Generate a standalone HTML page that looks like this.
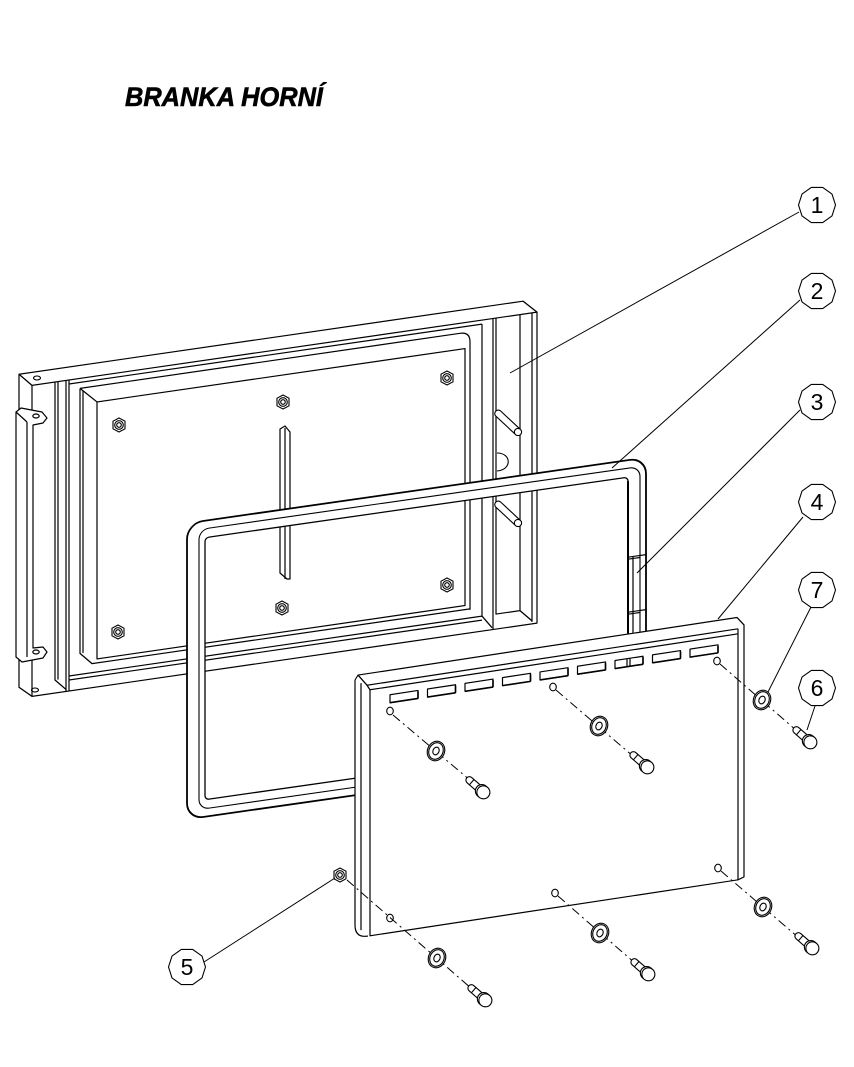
<!DOCTYPE html>
<html>
<head>
<meta charset="utf-8">
<style>
html,body{margin:0;padding:0;background:#fff;}
svg{display:block;}
</style>
</head>
<body>
<svg width="854" height="1067" viewBox="0 0 854 1067" xmlns="http://www.w3.org/2000/svg">
<rect x="0" y="0" width="854" height="1067" fill="#fff"/>

<!-- Title -->
<text x="125" y="106" font-family="Liberation Sans, sans-serif" font-weight="bold" font-style="italic" font-size="27" textLength="198" lengthAdjust="spacingAndGlyphs" fill="#000" stroke="#000" stroke-width="0.6">BRANKA HORNÍ</text>

<!-- ============ BACK PANEL (1) ============ -->
<g transform="matrix(1,-0.145,0,1,0,0)" fill="none" stroke="#000" stroke-width="1.2" stroke-linejoin="round">
  <path d="M19,377 H523 L537,390 V701 H32 L19,690 Z"/>
  <path d="M19,377 L32,390 H537"/>
  <path d="M32,390 V701"/>
  <path d="M532,390 V699"/>
  <path d="M55,390 V688 L66,699"/>
  <path d="M58,390 V688"/>
  <path d="M66,390 V701"/>
  <path d="M69,390 V701"/>
  <path d="M69,394 H482"/>
  <path d="M80,400 H460 Q470,400 470,410 V678"/>
  <path d="M80,400 V665 L92,677 H470"/>
  <path d="M83,403 V665"/>
  <path d="M80,400 L97,416"/>
  <path d="M97,416 H465 V673 H97 Z"/>
  <path d="M69,686 H482"/>
  <path d="M69,690 H482"/>
  <path d="M482,394 V686 L492,699"/>
  <path d="M493,390 V701"/>
  <path d="M496,390 V686 H520"/>
  <path d="M520,390 V686 L532,698"/>
</g>
<g fill="none" stroke="#000" stroke-width="1.1">
  <ellipse cx="37" cy="378" rx="3.5" ry="2"/>
  <ellipse cx="35" cy="690" rx="3.5" ry="2"/>
</g>

<!-- vertical plate -->
<g fill="#fff" stroke="#000" stroke-width="1.2" stroke-linejoin="round">
  <path d="M280,573 V429 L285,426 L290,432 V579 H287 Z"/>
  <path d="M285,428 V579" fill="none"/>
</g>

<!-- pins on right channel -->
<g fill="#fff" stroke="#000" stroke-width="1.1">
  <g transform="translate(518,432) rotate(43)">
    <path d="M-27,-3.5 H0 V3.5 H-27 A3.5,3.5 0 0 1 -27,-3.5 Z"/>
    <circle r="3.6"/>
  </g>
  <g transform="translate(518,523) rotate(43)">
    <path d="M-27,-3.5 H0 V3.5 H-27 A3.5,3.5 0 0 1 -27,-3.5 Z"/>
    <circle r="3.6"/>
  </g>
  <path d="M497,453 C512,453 512,470 497,471" fill="none"/>
</g>

<!-- nuts on back panel -->
<g fill="#fff" stroke="#000" stroke-width="1.1">
  <g transform="translate(119,425)"><polygon points="-6,-3.8 0,-7 6,-3.8 6,3.8 0,7 -6,3.8"/><circle r="4.3"/><circle r="2.3"/></g>
  <g transform="translate(283,402)"><polygon points="-6,-3.8 0,-7 6,-3.8 6,3.8 0,7 -6,3.8"/><circle r="4.3"/><circle r="2.3"/></g>
  <g transform="translate(447,378)"><polygon points="-6,-3.8 0,-7 6,-3.8 6,3.8 0,7 -6,3.8"/><circle r="4.3"/><circle r="2.3"/></g>
  <g transform="translate(118,632)"><polygon points="-6,-3.8 0,-7 6,-3.8 6,3.8 0,7 -6,3.8"/><circle r="4.3"/><circle r="2.3"/></g>
  <g transform="translate(282,608)"><polygon points="-6,-3.8 0,-7 6,-3.8 6,3.8 0,7 -6,3.8"/><circle r="4.3"/><circle r="2.3"/></g>
  <g transform="translate(447,585)"><polygon points="-6,-3.8 0,-7 6,-3.8 6,3.8 0,7 -6,3.8"/><circle r="4.3"/><circle r="2.3"/></g>
</g>

<!-- left bracket -->
<g fill="#fff" stroke="#000" stroke-width="1.2" stroke-linejoin="round">
  <path d="M16,412 L21,408 L42,412 L47,418 L43,423 L33,425 V648 L43,647 L47,652 L43,658 L22,662 L16,657 Z"/>
  <path d="M27,422 V657 M16,412 L27,422" fill="none"/>
  <ellipse cx="36" cy="416" rx="3.2" ry="2" fill="none"/>
  <ellipse cx="36" cy="652" rx="3.2" ry="2" fill="none"/>
</g>

<!-- ============ FRAME (2) ============ -->
<g transform="matrix(1,-0.143,0,1,0,0)" stroke-linejoin="round">
  <path fill="#fff" fill-rule="evenodd" stroke="none" d="M203,550 H630 A16,16 0 0 1 646,566 V830 A16,16 0 0 1 630,846 H203 A16,16 0 0 1 187,830 V566 A16,16 0 0 1 203,550 Z M209,567 H624 A4,4 0 0 1 628,571 V825 A4,4 0 0 1 624,829 H209 A4,4 0 0 1 205,825 V571 A4,4 0 0 1 209,567 Z"/>
  <path fill="none" stroke="#000" stroke-width="1.8" d="M203,550 H630 A16,16 0 0 1 646,566 V830 A16,16 0 0 1 630,846 H203 A16,16 0 0 1 187,830 V566 A16,16 0 0 1 203,550 Z"/>
  <path fill="none" stroke="#000" stroke-width="1.1" d="M209,558 H630 A10,10 0 0 1 640,568 V828 A10,10 0 0 1 630,838 H209 A10,10 0 0 1 199,828 V568 A10,10 0 0 1 209,558 Z"/>
  <path fill="none" stroke="#000" stroke-width="1.3" d="M209,567 H624 A4,4 0 0 1 628,571 V825 A4,4 0 0 1 624,829 H209 A4,4 0 0 1 205,825 V571 A4,4 0 0 1 209,567 Z"/>
  <path fill="none" stroke="#000" stroke-width="2" d="M628,571 V760"/>
  <path fill="none" stroke="#000" stroke-width="1.2" d="M628,647 H646 M628,649 H640 M628,702 H646 M628,704 H640 M633,647 V760"/>
</g>

<!-- ============ FRONT PANEL (4) ============ -->
<g transform="matrix(1,-0.152,0,1,0,0)" stroke-linejoin="round">
  <path fill="#fff" stroke="none" d="M355,734 L358,729.5 H737 L744,738 V990 L738,992 H368 Q355,992 355,979 Z"/>
  <g fill="none" stroke="#000" stroke-width="1.2">
    <path d="M358,729.5 H737 L744,738 V990 L738,992"/>
    <path d="M355,734 L358,729.5 L367,741 H738"/>
    <path d="M370,746 H738 V992 H370 Z"/>
    <path d="M355,734 V979 Q355,992 368,992"/>
    <path d="M361,738 V985"/>
    <path d="M367,741 L370,746"/>
    <path d="M738,741 V746"/>
  </g>
  <g fill="#fff" stroke="#000" stroke-width="1.2">
    <rect x="390" y="754" width="28" height="8"/>
    <rect x="427.5" y="754" width="28" height="8"/>
    <rect x="465" y="754" width="28" height="8"/>
    <rect x="502.5" y="754" width="28" height="8"/>
    <rect x="540" y="754" width="28" height="8"/>
    <rect x="577.5" y="754" width="28" height="8"/>
    <rect x="615" y="754" width="28" height="8"/>
    <rect x="652.5" y="754" width="28" height="8"/>
    <rect x="690" y="754" width="28" height="8"/>
  </g>
  <g fill="none" stroke="#000" stroke-width="1.6">
    <path d="M390,762 H418 M427.5,762 H455.5 M465,762 H493 M502.5,762 H530.5 M540,762 H568 M577.5,762 H605.5 M615,762 H643 M652.5,762 H680.5 M690,762 H718"/>
    <path d="M418,755 V762 M455.5,755 V762 M493,755 V762 M530.5,755 V762 M568,755 V762 M605.5,755 V762 M643,755 V762 M680.5,755 V762 M718,755 V762"/>
    <path d="M627,754 V762" stroke-width="1.2"/>
    <path d="M630,754 V762" stroke-width="1.2"/>
  </g>
</g>

<!-- holes on front panel -->
<g fill="#fff" stroke="#000" stroke-width="1.1">
  <ellipse cx="390" cy="711" rx="3.3" ry="3.8"/>
  <ellipse cx="553" cy="687" rx="3.3" ry="3.8"/>
  <ellipse cx="717" cy="661" rx="3.3" ry="3.8"/>
  <ellipse cx="390" cy="918" rx="3.3" ry="3.8"/>
  <ellipse cx="555" cy="893" rx="3.3" ry="3.8"/>
  <ellipse cx="718" cy="868" rx="3.3" ry="3.8"/>
</g>

<!-- dashed centre lines -->
<g fill="none" stroke="#000" stroke-width="1" stroke-dasharray="9,4,2,4">
  <path d="M393,715 L471,781"/>
  <path d="M556,690 L634,757"/>
  <path d="M720,664 L797,731"/>
  <path d="M347,880 L472,989"/>
  <path d="M558,896 L636,964"/>
  <path d="M721,871 L799,938"/>
</g>

<!-- washers -->
<g fill="#fff" stroke="#000" stroke-width="1.1">
  <g transform="translate(436,751) rotate(25)"><ellipse rx="8.5" ry="10"/><ellipse rx="7" ry="8.5"/><ellipse rx="3" ry="4"/></g>
  <g transform="translate(599,726) rotate(25)"><ellipse rx="8.5" ry="10"/><ellipse rx="7" ry="8.5"/><ellipse rx="3" ry="4"/></g>
  <g transform="translate(762,700) rotate(25)"><ellipse rx="8.5" ry="10"/><ellipse rx="7" ry="8.5"/><ellipse rx="3" ry="4"/></g>
  <g transform="translate(437,958) rotate(25)"><ellipse rx="8.5" ry="10"/><ellipse rx="7" ry="8.5"/><ellipse rx="3" ry="4"/></g>
  <g transform="translate(600,933) rotate(25)"><ellipse rx="8.5" ry="10"/><ellipse rx="7" ry="8.5"/><ellipse rx="3" ry="4"/></g>
  <g transform="translate(763,907) rotate(25)"><ellipse rx="8.5" ry="10"/><ellipse rx="7" ry="8.5"/><ellipse rx="3" ry="4"/></g>
</g>

<!-- bolts -->
<g fill="#fff" stroke="#000" stroke-width="1.1">
  <g transform="translate(483,792) rotate(41)"><path d="M-5,-3.5 H-18 A3.5,3.5 0 0 0 -18,3.5 H-5 Z"/><path d="M-15,-3.5 V3.5" fill="none"/><circle cx="-1.5" r="6.5"/><circle cx="0.5" r="6.5"/></g>
  <g transform="translate(647,767) rotate(41)"><path d="M-5,-3.5 H-18 A3.5,3.5 0 0 0 -18,3.5 H-5 Z"/><path d="M-15,-3.5 V3.5" fill="none"/><circle cx="-1.5" r="6.5"/><circle cx="0.5" r="6.5"/></g>
  <g transform="translate(810,742) rotate(41)"><path d="M-5,-3.5 H-18 A3.5,3.5 0 0 0 -18,3.5 H-5 Z"/><path d="M-15,-3.5 V3.5" fill="none"/><circle cx="-1.5" r="6.5"/><circle cx="0.5" r="6.5"/></g>
  <g transform="translate(485,1000) rotate(41)"><path d="M-5,-3.5 H-18 A3.5,3.5 0 0 0 -18,3.5 H-5 Z"/><path d="M-15,-3.5 V3.5" fill="none"/><circle cx="-1.5" r="6.5"/><circle cx="0.5" r="6.5"/></g>
  <g transform="translate(648,974) rotate(41)"><path d="M-5,-3.5 H-18 A3.5,3.5 0 0 0 -18,3.5 H-5 Z"/><path d="M-15,-3.5 V3.5" fill="none"/><circle cx="-1.5" r="6.5"/><circle cx="0.5" r="6.5"/></g>
  <g transform="translate(812,948) rotate(41)"><path d="M-5,-3.5 H-18 A3.5,3.5 0 0 0 -18,3.5 H-5 Z"/><path d="M-15,-3.5 V3.5" fill="none"/><circle cx="-1.5" r="6.5"/><circle cx="0.5" r="6.5"/></g>
</g>

<!-- nut 5 -->
<g fill="#fff" stroke="#000" stroke-width="1.1" transform="translate(340,875)">
  <polygon points="-6,-3.8 0,-7 6,-3.8 6,3.8 0,7 -6,3.8"/><circle r="4.3"/><circle r="2.3"/>
</g>

<!-- leader lines -->
<g fill="none" stroke="#000" stroke-width="1">
  <path d="M799,212 L510,373"/>
  <path d="M800,300 L612,468"/>
  <path d="M800,410 L637,573"/>
  <path d="M803,517 L718,619"/>
  <path d="M811,607 L768,692"/>
  <path d="M815,706 L807,730"/>
  <path d="M204,962 L335,878"/>
</g>

<!-- balloons -->
<g fill="#fff" stroke="#000" stroke-width="1.1">
  <polygon transform="translate(817,205)" points="18.5,0 15,10.9 5.7,17.6 -5.7,17.6 -15,10.9 -18.5,0 -15,-10.9 -5.7,-17.6 5.7,-17.6 15,-10.9"/>
  <polygon transform="translate(817,291)" points="18.5,0 15,10.9 5.7,17.6 -5.7,17.6 -15,10.9 -18.5,0 -15,-10.9 -5.7,-17.6 5.7,-17.6 15,-10.9"/>
  <polygon transform="translate(817,402)" points="18.5,0 15,10.9 5.7,17.6 -5.7,17.6 -15,10.9 -18.5,0 -15,-10.9 -5.7,-17.6 5.7,-17.6 15,-10.9"/>
  <polygon transform="translate(817,502)" points="18.5,0 15,10.9 5.7,17.6 -5.7,17.6 -15,10.9 -18.5,0 -15,-10.9 -5.7,-17.6 5.7,-17.6 15,-10.9"/>
  <polygon transform="translate(817,590)" points="18.5,0 15,10.9 5.7,17.6 -5.7,17.6 -15,10.9 -18.5,0 -15,-10.9 -5.7,-17.6 5.7,-17.6 15,-10.9"/>
  <polygon transform="translate(817,688)" points="18.5,0 15,10.9 5.7,17.6 -5.7,17.6 -15,10.9 -18.5,0 -15,-10.9 -5.7,-17.6 5.7,-17.6 15,-10.9"/>
  <polygon transform="translate(187,967)" points="18.5,0 15,10.9 5.7,17.6 -5.7,17.6 -15,10.9 -18.5,0 -15,-10.9 -5.7,-17.6 5.7,-17.6 15,-10.9"/>
</g>
<g font-family="Liberation Sans, sans-serif" font-size="23" text-anchor="middle" fill="#000">
  <text x="817" y="213">1</text>
  <text x="817" y="299">2</text>
  <text x="817" y="410">3</text>
  <text x="817" y="510">4</text>
  <text x="817" y="598">7</text>
  <text x="817" y="696">6</text>
  <text x="187" y="975">5</text>
</g>
</svg>
</body>
</html>
